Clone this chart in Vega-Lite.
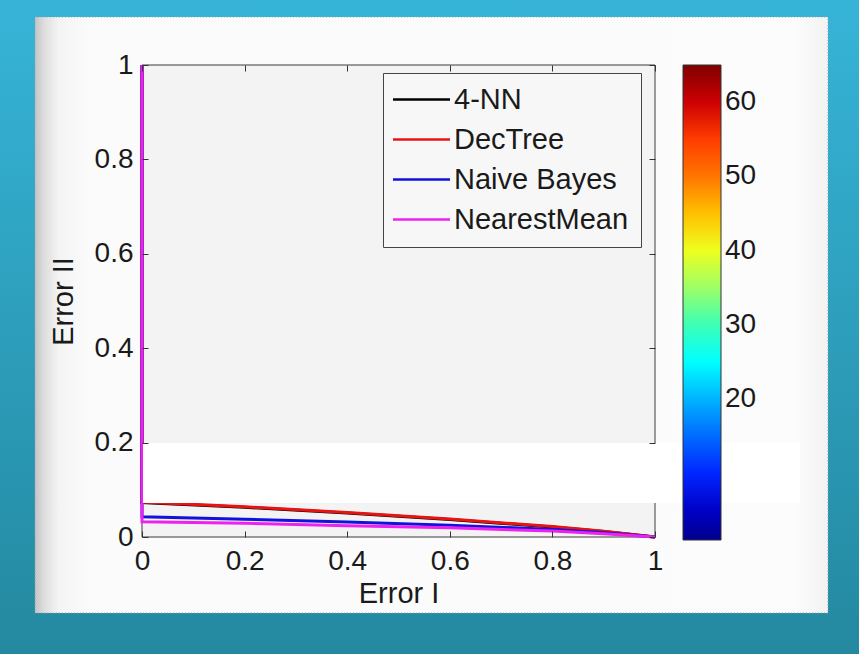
{
  "$schema": "https://vega.github.io/schema/vega-lite/v6.json",
  "width": 513,
  "height": 472,
  "autosize": {"type": "none"},
  "padding": {"left": 142, "top": 65, "right": 204, "bottom": 117},
  "background": "#2d9fbd",
  "config": {
    "view": {"stroke": null},
    "font": "Liberation Sans",
    "axis": {
      "domain": false,
      "grid": false,
      "labelFlush": false,
      "tickColor": "#333333",
      "tickWidth": 1,
      "tickSize": -6,
      "labelColor": "#1a1a1a",
      "titleColor": "#1a1a1a",
      "labelFont": "Liberation Sans",
      "titleFont": "Liberation Sans",
      "labelFontSize": 28,
      "titleFontSize": 29,
      "titleFontWeight": "normal"
    }
  },
  "data": {
    "values": [
      {"model": "4-NN", "i": 0, "x": 0, "y": 1},
      {"model": "4-NN", "i": 1, "x": 0, "y": 0.073},
      {"model": "4-NN", "i": 2, "x": 0.2, "y": 0.063},
      {"model": "4-NN", "i": 3, "x": 0.4, "y": 0.051},
      {"model": "4-NN", "i": 4, "x": 0.6, "y": 0.037},
      {"model": "4-NN", "i": 5, "x": 0.8, "y": 0.021},
      {"model": "4-NN", "i": 6, "x": 0.9, "y": 0.0115},
      {"model": "4-NN", "i": 7, "x": 1, "y": 0},
      {"model": "DecTree", "i": 0, "x": 0, "y": 1},
      {"model": "DecTree", "i": 1, "x": 0, "y": 0.074},
      {"model": "DecTree", "i": 2, "x": 0.2, "y": 0.064},
      {"model": "DecTree", "i": 3, "x": 0.4, "y": 0.052},
      {"model": "DecTree", "i": 4, "x": 0.6, "y": 0.038},
      {"model": "DecTree", "i": 5, "x": 0.8, "y": 0.022},
      {"model": "DecTree", "i": 6, "x": 0.9, "y": 0.012},
      {"model": "DecTree", "i": 7, "x": 1, "y": 0},
      {"model": "Naive Bayes", "i": 0, "x": 0, "y": 1},
      {"model": "Naive Bayes", "i": 1, "x": 0, "y": 0.043},
      {"model": "Naive Bayes", "i": 2, "x": 0.2, "y": 0.0375},
      {"model": "Naive Bayes", "i": 3, "x": 0.4, "y": 0.032},
      {"model": "Naive Bayes", "i": 4, "x": 0.6, "y": 0.025},
      {"model": "Naive Bayes", "i": 5, "x": 0.8, "y": 0.016},
      {"model": "Naive Bayes", "i": 6, "x": 0.9, "y": 0.009},
      {"model": "Naive Bayes", "i": 7, "x": 1, "y": 0},
      {"model": "NearestMean", "i": 0, "x": 0, "y": 1},
      {"model": "NearestMean", "i": 1, "x": 0, "y": 0.0325},
      {"model": "NearestMean", "i": 2, "x": 0.2, "y": 0.029},
      {"model": "NearestMean", "i": 3, "x": 0.4, "y": 0.024},
      {"model": "NearestMean", "i": 4, "x": 0.6, "y": 0.0195},
      {"model": "NearestMean", "i": 5, "x": 0.8, "y": 0.0125},
      {"model": "NearestMean", "i": 6, "x": 0.9, "y": 0.007},
      {"model": "NearestMean", "i": 7, "x": 1, "y": 0}
    ]
  },
  "layer": [
    {
      "data": {"values": [{}]},
      "mark": {
        "type": "rect",
        "fill": {
          "gradient": "linear", "x1": 0, "y1": 0, "x2": 0, "y2": 1,
          "stops": [
            {"offset": 0, "color": "#37b6da"},
            {"offset": 1, "color": "#23879e"}
          ]
        }
      },
      "encoding": {
        "x": {"datum": -0.3, "type": "quantitative", "scale": {"domain": [0, 1]}, "axis": null},
        "x2": {"datum": 1.45},
        "y": {"datum": -0.3, "type": "quantitative", "scale": {"domain": [0, 1]}, "axis": null},
        "y2": {"datum": 1.2}
      }
    },
    {
      "data": {"values": [{}]},
      "mark": {
        "type": "rect",
        "stroke": "#8aa8b0",
        "strokeWidth": 1,
        "strokeDash": [1, 2],
        "fill": {
          "gradient": "linear", "x1": 0, "y1": 0, "x2": 1, "y2": 0,
          "stops": [
            {"offset": 0, "color": "#c4c4c4"},
            {"offset": 0.012, "color": "#dedede"},
            {"offset": 0.03, "color": "#f4f4f4"},
            {"offset": 0.07, "color": "#fbfbfb"},
            {"offset": 0.96, "color": "#fcfcfc"},
            {"offset": 1, "color": "#f2f2f2"}
          ]
        }
      },
      "encoding": {
        "x": {"datum": -0.2086, "type": "quantitative", "scale": {"domain": [0, 1]}, "axis": null},
        "x2": {"datum": 1.3372},
        "y": {"datum": -0.161, "type": "quantitative", "scale": {"domain": [0, 1]}, "axis": null},
        "y2": {"datum": 1.1017}
      }
    },
    {
      "data": {"values": [{}]},
      "mark": {"type": "rect", "fill": "#f3f3f3", "stroke": "#3a3a3a", "strokeWidth": 1},
      "encoding": {
        "x": {
          "datum": 0, "type": "quantitative", "scale": {"domain": [0, 1]},
          "axis": {"orient": "top", "zindex": 1, "values": [0, 0.2, 0.4, 0.6, 0.8, 1], "labels": false, "title": null}
        },
        "x2": {"datum": 1},
        "y": {
          "datum": 0, "type": "quantitative", "scale": {"domain": [0, 1]},
          "axis": {"orient": "right", "zindex": 1, "values": [0, 0.2, 0.4, 0.6, 0.8, 1], "labels": false, "title": null}
        },
        "y2": {"datum": 1}
      }
    },
    {
      "mark": {"type": "line", "strokeWidth": 3},
      "encoding": {
        "x": {
          "field": "x", "type": "quantitative", "scale": {"domain": [0, 1]},
          "axis": {"orient": "bottom", "zindex": 1, "values": [0, 0.2, 0.4, 0.6, 0.8, 1], "format": "~g", "title": "Error I", "labelPadding": 16, "titlePadding": 4}
        },
        "y": {
          "field": "y", "type": "quantitative", "scale": {"domain": [0, 1]},
          "axis": {"orient": "left", "zindex": 1, "values": [0, 0.2, 0.4, 0.6, 0.8, 1], "format": "~g", "title": "Error II", "labelPadding": 15, "titlePadding": 16}
        },
        "stroke": {
          "field": "model", "type": "nominal",
          "scale": {"domain": ["4-NN", "DecTree", "Naive Bayes", "NearestMean"], "range": ["#000000", "#e81414", "#1212dd", "#ee22ee"]},
          "legend": {
            "title": null,
            "orient": "none",
            "legendX": 241,
            "legendY": 8,
            "symbolType": "M-2.5,0H2.5",
            "symbolSize": 520,
            "symbolStrokeWidth": 2.5,
            "symbolOffset": 12,
            "labelOffset": 18,
            "labelFontSize": 29,
            "labelFont": "Liberation Sans",
            "labelColor": "#1a1a1a",
            "labelLimit": 400,
            "rowPadding": 10,
            "padding": 12,
            "strokeColor": "#444444",
            "fillColor": "#f7f7f7"
          }
        },
        "order": {"field": "i", "type": "quantitative"}
      }
    },
    {
      "data": {"values": [{}]},
      "mark": {"type": "rect", "fill": "#ffffff"},
      "encoding": {
        "x": {"datum": 0.002, "type": "quantitative", "scale": {"domain": [0, 1]}, "axis": null},
        "x2": {"datum": 1.2827},
        "y": {"datum": 0.072, "type": "quantitative", "scale": {"domain": [0, 1]}, "axis": null},
        "y2": {"datum": 0.1992}
      }
    },
    {
      "data": {"values": [{"level": 1}, {"level": 65}]},
      "mark": {"type": "point", "filled": true, "opacity": 0},
      "encoding": {
        "fill": {
          "field": "level", "type": "quantitative",
          "scale": {"domain": [1, 65], "range": ["#00008f", "#0000ff", "#007fff", "#00ffff", "#7fff7f", "#ffff00", "#ff7f00", "#ff0000", "#7f0000"]},
          "legend": {
            "title": null,
            "orient": "none",
            "legendX": 541,
            "legendY": 0,
            "direction": "vertical",
            "gradientLength": 475,
            "gradientThickness": 38,
            "gradientStrokeColor": "#333333",
            "gradientStrokeWidth": 1,
            "values": [20, 30, 40, 50, 60],
            "labelFontSize": 28,
            "labelFont": "Liberation Sans",
            "labelColor": "#1a1a1a",
            "labelOffset": 4
          }
        }
      }
    }
  ],
  "resolve": {"axis": {"x": "independent", "y": "independent"}}
}
